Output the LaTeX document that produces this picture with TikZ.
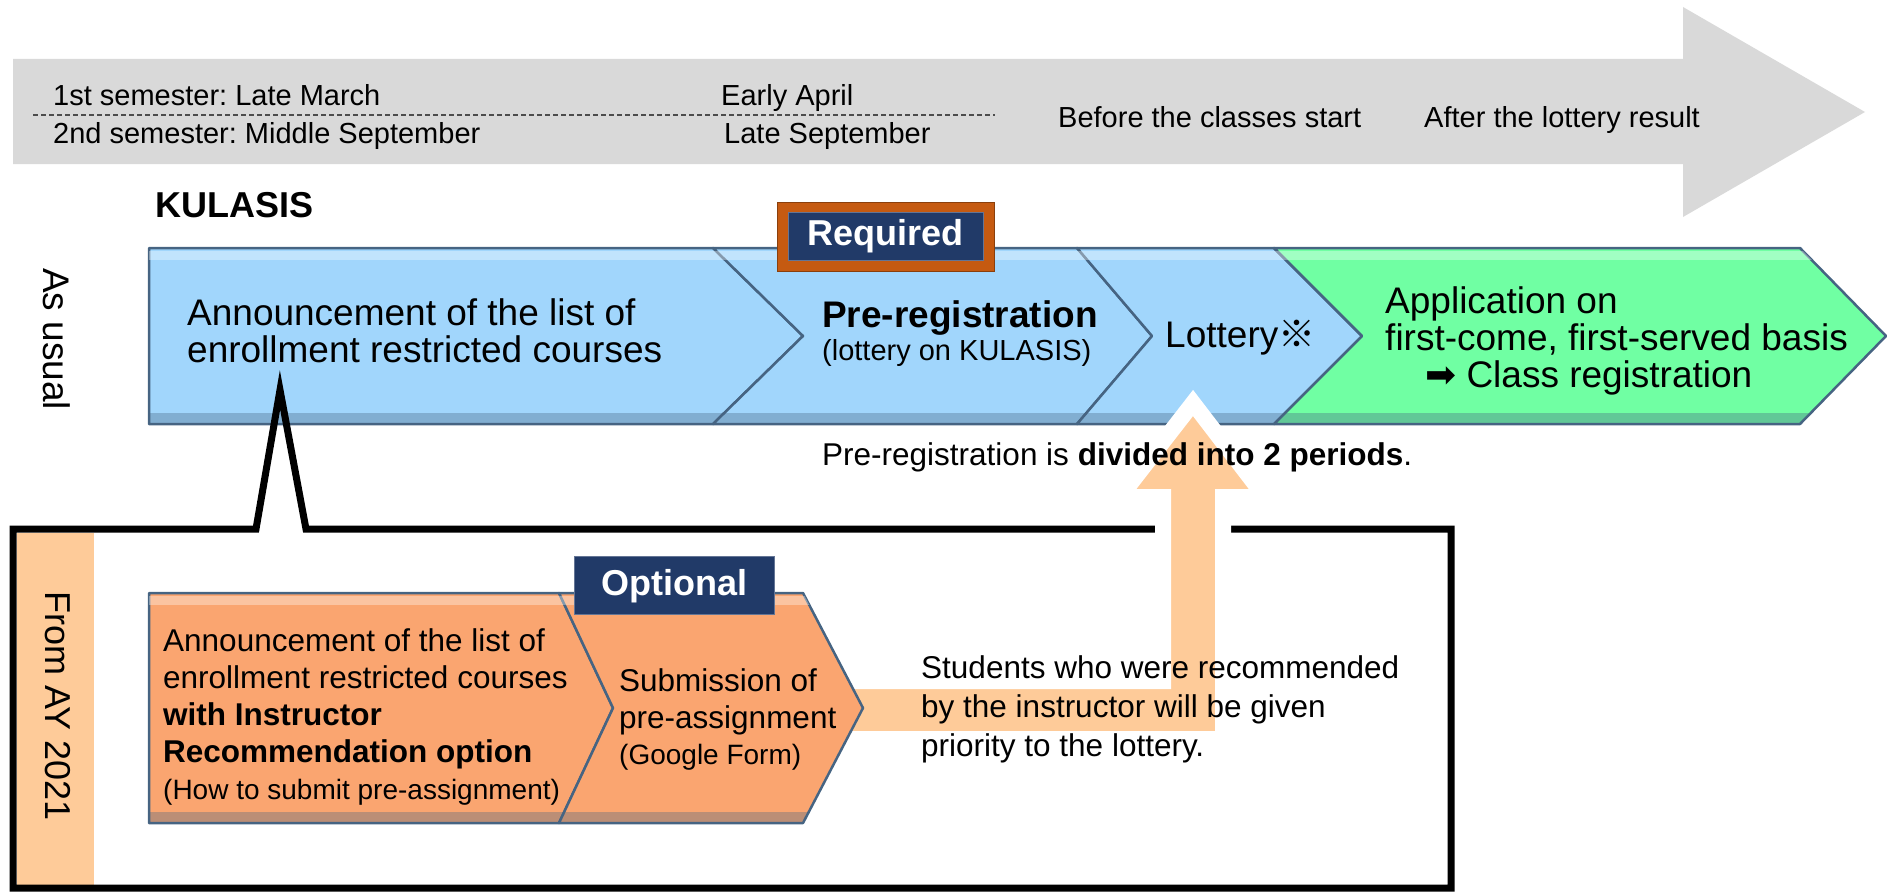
\documentclass[tikz,border=0pt]{standalone}
\usepackage{fontspec}
\setmainfont{Liberation Sans}
\newfontfamily\cjkfont{Noto Sans CJK JP}
\newfontfamily\dejavu{DejaVu Sans}
\usepackage{tikz}
\frenchspacing
\definecolor{silvergray}{RGB}{217, 217, 217}
\definecolor{skyblue}{RGB}{161, 214, 252}
\definecolor{mintgreen}{RGB}{112, 255, 163}
\definecolor{apricot}{RGB}{250, 165, 112}
\definecolor{peach}{RGB}{254, 203, 153}
\definecolor{rust}{RGB}{197, 90, 17}
\definecolor{navyblue}{RGB}{33, 58, 104}
\definecolor{slateedge}{RGB}{70, 100, 130}
\newcommand\sizeL{\fontsize{37}{37}\selectfont}
\newcommand\sizeM{\fontsize{31.5}{37}\selectfont}
\newcommand\sizeS{\fontsize{29}{33}\selectfont}
\newcommand\sizeT{\fontsize{28}{33}\selectfont}
\tikzset{
    chev/.style={draw=slateedge, line width=2.5pt, line join=round},
    shine/.style={white, opacity=0.35},
    shade/.style={slateedge, opacity=0.35},
    txt/.style={anchor=base west, inner sep=0pt, align=left},
    tag/.style={anchor=base, inner sep=0pt, text=white, font=\bfseries\fontsize{36}{36}\selectfont},
}

\begin{document}
\begin{tikzpicture}[x=1pt, y=-1pt]
            \useasboundingbox (0,0) rectangle (1889,891);
            % time line
            \fill[silvergray] (13,59) -- (1683,59) -- (1683,7) -- (1865,112) -- (1683,217) -- (1683,164) -- (13,164) -- cycle;
            \draw[black!70, line width=1.5pt, dash pattern=on 5pt off 3pt] (33,115) -- (995,115);
            \node[txt, font=\sizeS] (sem1)   at (53,105)   {1st semester: Late March};
            \node[txt, font=\sizeS] (sem2)   at (53,143)   {2nd semester: Middle September};
            \node[txt, font=\sizeS] (april)  at (721,105)  {Early April};
            \node[txt, font=\sizeS] (sept)   at (724,143)  {Late September};
            \node[txt, font=\sizeS] (before) at (1058,127) {Before the classes start};
            \node[txt, font=\sizeS] (after)  at (1424,127) {After the lottery result};
            % as usual
            \node[txt, font=\bfseries\fontsize{36}{36}\selectfont] (kulasis) at (155,217) {KULASIS};
            \node[rotate=-90, font=\sizeL] (usual) at (57,339) {As usual};
            \filldraw[chev, fill=skyblue]   (149,248) -- (713,248) -- (803,336) -- (713,424) -- (149,424) -- cycle;
            \filldraw[chev, fill=skyblue]   (713,248) -- (1077,248) -- (1152,336) -- (1077,424) -- (713,424) -- (803,336) -- cycle;
            \filldraw[chev, fill=skyblue]   (1077,248) -- (1274,248) -- (1362,336) -- (1274,424) -- (1077,424) -- (1152,336) -- cycle;
            \filldraw[chev, fill=mintgreen] (1274,248) -- (1800,248) -- (1886,336) -- (1800,424) -- (1274,424) -- (1362,336) -- cycle;
            \begin{scope}
                \clip (149,248) -- (1800,248) -- (1886,336) -- (1800,424) -- (149,424) -- cycle;
                \fill[shine] (149,251) rectangle (1889,260);
                \fill[shade] (149,413) rectangle (1889,424);
            \end{scope}
            \filldraw[fill=rust, draw=rust!70!black, line width=1pt]          (777,202) rectangle (994,271);
            \filldraw[fill=navyblue, draw=navyblue!70!white, line width=1pt] (788,212) rectangle (983,260);
            \node[tag] (required) at (885.5,245) {Required};
            \node[txt, font=\sizeL] (annc)    at (187,362)  {Announcement of the list of\\enrollment restricted courses};
            \node[txt, font=\sizeL] (prereg)  at (822,360)  {\textbf{Pre-registration}\\[-4pt]{\sizeS(lottery on KULASIS)}};
            \node[txt, font=\sizeL] (lottery) at (1165,347) {Lottery{\cjkfont ※}};
            \node[txt, font=\sizeL] (apply)   at (1385,387) {Application on\\first-come, first-served basis\\\hspace*{40pt}{\dejavu ➡} Class registration};
            % from AY 2021
            \fill[peach] (17,533) rectangle (94,885);
            \draw[line width=7pt, line join=miter] (13,529) -- (256,529) -- (280,390) -- (306,529) -- (1451,529) -- (1451,888) -- (13,888) -- cycle;
            \filldraw[fill=peach, draw=white, line width=16pt, line join=miter]
                 (800,681) -- (1163,681) -- (1163,497) -- (1120,497) -- (1193,403) -- (1265,497) -- (1223,497) -- (1223,739) -- (800,739) -- cycle;
            \node[rotate=-90, font=\fontsize{36}{36}\selectfont] (fromay) at (58,706) {From AY 2021};
            \filldraw[chev, fill=apricot] (149,593) -- (559,593) -- (613,708) -- (559,823) -- (149,823) -- cycle;
            \filldraw[chev, fill=apricot] (559,593) -- (803,593) -- (863,708) -- (803,823) -- (559,823) -- (613,708) -- cycle;
            \begin{scope}
                \clip (149,593) -- (803,593) -- (863,708) -- (803,823) -- (149,823) -- cycle;
                \fill[shine] (149,596) rectangle (900,605);
                \fill[shade] (149,812) rectangle (900,823);
            \end{scope}
            \filldraw[fill=navyblue, draw=navyblue!70!white, line width=1pt] (574,556) rectangle (774,614);
            \node[tag] (optional) at (674,595) {Optional};
            \node[txt, font=\sizeM] (annc2) at (163,799)
                 {Announcement of the list of\\enrollment restricted courses\\\textbf{with Instructor}\\\textbf{Recommendation option}\\{\sizeT(How to submit pre-assignment)}};
            \node[txt, font=\sizeM] (subm) at (619,764) {Submission of\\pre-assignment\\[-1pt]{\sizeT(Google Form)}};
            \node[txt, font=\sizeM] (periods) at (822,465) {Pre-registration is \textbf{divided into 2 periods}.};
            \node[txt, font=\sizeM] (students) at (921,756) {Students who were recommended\\[2pt]by the instructor will be given\\[2pt]priority to the lottery.};
        \end{tikzpicture}
\end{document}
